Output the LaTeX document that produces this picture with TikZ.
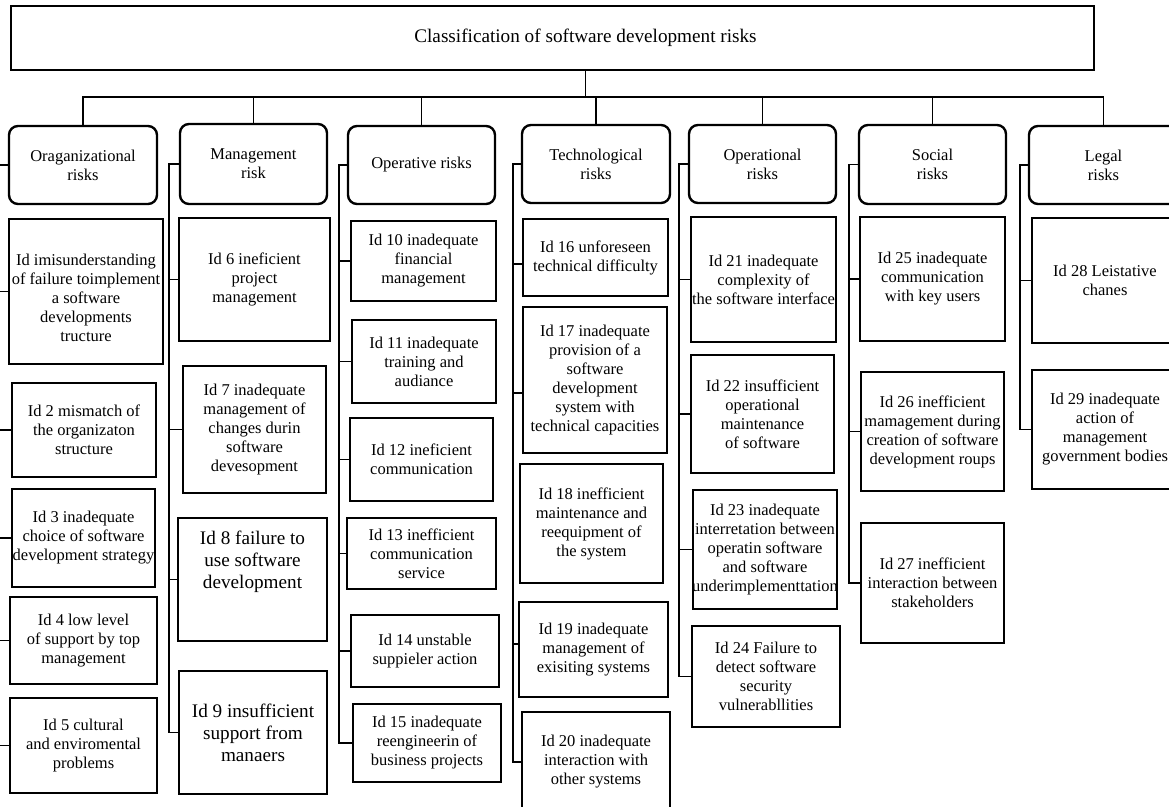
\documentclass[tikz,border=0pt]{standalone}
\usepackage{fontspec}
\setmainfont{Liberation Serif}
\usetikzlibrary{calc}
\tikzset{
  itembox/.style={draw, line width=1.8pt, inner sep=0pt},
  catbox/.style={draw, line width=2.4pt, rounded corners=9pt, inner sep=0pt},
  titlebox/.style={draw, line width=2pt, inner sep=0pt},
  txt/.style={align=center, inner sep=0pt, font=\fontsize{16.5}{19}\selectfont},
  bigtxt/.style={align=center, inner sep=0pt, font=\fontsize{19.2}{22}\selectfont},
  link/.style={line width=1.6pt},
}
% #1 box style, #2 name, #3-#6 corners (x1,y1,x2,y2), #7 text style, #8 text
\newcommand\ibox[8]{%
  \node[#1, minimum width={#5-#3}, minimum height={#6-#4}] (#2) at ({(#3+#5)/2},{(#4+#6)/2}) {};
  \node[#7] (#2t) at (#2.center) {#8};}
\begin{document}
\begin{tikzpicture}[x=1pt,y=-1pt]
\useasboundingbox (0,0) rectangle (1169,806);
\fill[white] (0,0) rectangle (1169,806);

% title
\ibox{titlebox}{title}{11}{6}{1094}{70}{bigtxt,xshift=33pt}{Classification of software development risks}

% categories
\ibox{catbox}{c1}{9}{126}{157}{204}{txt}{Oraganizational\\risks}
\ibox{catbox}{c2}{180}{124}{327}{204}{txt}{Management\\risk}
\ibox{catbox}{c3}{348}{126}{495}{204}{txt}{Operative risks}
\ibox{catbox}{c4}{522}{125}{670}{203}{txt}{Technological\\risks}
\ibox{catbox}{c5}{689}{125}{836}{203}{txt}{Operational\\risks}
\ibox{catbox}{c6}{859}{125}{1006}{204}{txt}{Social\\risks}
\ibox{catbox}{c7}{1029}{126}{1178}{204}{txt}{Legal\\risks}

% organizational
\ibox{itembox}{b1}{9}{219}{163}{364}{txt,yshift=-6pt}{Id imisunderstanding\\of failure toimplement\\a software\\developments\\tructure}
\ibox{itembox}{b2}{12}{383}{156}{477}{txt}{Id 2 mismatch of\\the organizaton\\structure}
\ibox{itembox}{b3}{12}{489}{155}{587}{txt}{Id 3 inadequate\\choice of software\\development strategy}
\ibox{itembox}{b4}{10}{597}{157}{684}{txt}{Id 4 low level\\of support by top\\management}
\ibox{itembox}{b5}{10}{698}{157}{793}{txt}{Id 5 cultural\\and enviromental\\problems}

% management
\ibox{itembox}{b6}{179}{218}{330}{341}{txt}{Id 6 ineficient\\project\\management}
\ibox{itembox}{b7}{183}{366}{326}{493}{txt}{Id 7 inadequate\\management of\\changes durin\\software\\devesopment}
\ibox{itembox}{b8}{178}{518}{327}{641}{bigtxt,yshift=18pt}{Id 8 failure to\\use software\\development}
\ibox{itembox}{b9}{179}{671}{327}{794}{bigtxt}{Id 9 insufficient\\support from\\manaers}

% operative
\ibox{itembox}{b10}{351}{221}{496}{301}{txt}{Id 10 inadequate\\financial\\management}
\ibox{itembox}{b11}{352}{320}{496}{403}{txt}{Id 11 inadequate\\training and\\audiance}
\ibox{itembox}{b12}{350}{418}{493}{501}{txt}{Id 12 ineficient\\communication}
\ibox{itembox}{b13}{347}{518}{496}{589}{txt}{Id 13 inefficient\\communication\\service}
\ibox{itembox}{b14}{351}{615}{499}{687}{txt}{Id 14 unstable\\suppieler action}
\ibox{itembox}{b15}{353}{704}{501}{782}{txt}{Id 15 inadequate\\reengineerin of\\business projects}

% technological
\ibox{itembox}{b16}{523}{219}{668}{296}{txt}{Id 16 unforeseen\\technical difficulty}
\ibox{itembox}{b17}{523}{307}{667}{453}{txt}{Id 17 inadequate\\provision of a\\software\\development\\system with\\technical capacities}
\ibox{itembox}{b18}{520}{464}{663}{583}{txt}{Id 18 inefficient\\maintenance and\\reequipment of\\the system}
\ibox{itembox}{b19}{519}{602}{668}{697}{txt}{Id 19 inadequate\\management of\\exisiting systems}
\ibox{itembox}{b20}{522}{712}{670}{812}{txt}{Id 20 inadequate\\interaction with\\other systems}

% operational
\ibox{itembox}{b21}{691}{217}{836}{342}{txt}{Id 21 inadequate\\complexity of\\the software interface}
\ibox{itembox}{b22}{691}{355}{834}{473}{txt}{Id 22 insufficient\\operational\\maintenance\\of software}
\ibox{itembox}{b23}{693}{490}{837}{609}{txt}{Id 23 inadequate\\interretation between\\operatin software\\and software\\underimplementtation}
\ibox{itembox}{b24}{692}{626}{840}{727}{txt}{Id 24 Failure to\\detect software\\security\\vulnerabllities}

% social
\ibox{itembox}{b25}{860}{217}{1005}{341}{txt}{Id 25 inadequate\\communication\\with key users}
\ibox{itembox}{b26}{861}{372}{1004}{491}{txt}{Id 26 inefficient\\mamagement during\\creation of software\\development roups}
\ibox{itembox}{b27}{861}{523}{1004}{643}{txt}{Id 27 inefficient\\interaction between\\stakeholders}

% legal
\ibox{itembox}{b28}{1032}{218}{1178}{343}{txt}{Id 28 Leistative\\chanes}
\ibox{itembox}{b29}{1032}{370}{1178}{489}{txt}{Id 29 inadequate\\action of\\management\\government bodies}

% top connectors
\coordinate (bus) at (0,97);
\draw[link] ([xshift=33pt]title.south) coordinate (trunk) -- (trunk |- bus);
\draw[link] (c1.north) -- (c1.north |- bus) -- (c7.north |- bus) -- (c7.north);
\foreach \c in {c2,c3,c4,c5,c6} \draw[link] (\c.north) -- (\c.north |- bus);

% column buses
\coordinate (k1) at (-3,0);
\coordinate (k2) at (169,0);
\coordinate (k3) at (339,0);
\coordinate (k4) at (513,0);
\coordinate (k5) at (679,0);
\coordinate (k6) at (849,0);
\coordinate (k7) at (1020,0);

\draw[link] (c1.west) -- (c1.west -| k1) -- (b5.west -| k1) -- (b5.west);
\foreach \b in {b1,b2,b3,b4} \draw[link] (\b.west) -- (\b.west -| k1);

\draw[link] (c2.west) -- (c2.west -| k2) -- (b9.west -| k2) -- (b9.west);
\foreach \b in {b6,b7,b8} \draw[link] (\b.west) -- (\b.west -| k2);

\draw[link] (c3.west) -- (c3.west -| k3) -- (b15.west -| k3) -- (b15.west);
\foreach \b in {b10,b11,b12,b13,b14} \draw[link] (\b.west) -- (\b.west -| k3);

\draw[link] (c4.west) -- (c4.west -| k4) -- (b20.west -| k4) -- (b20.west);
\draw[link] ([yshift=-6.5pt]b16.west) coordinate (s16) -- (s16 -| k4);
\draw[link] ([yshift=-13pt]b17.west) coordinate (s17) -- (s17 -| k4);
\draw[link] ([yshift=5.5pt]b19.west) coordinate (s19) -- (s19 -| k4);

\draw[link] (c5.west) -- (c5.west -| k5) -- (b24.west -| k5) -- (b24.west);
\foreach \b in {b21,b22,b23} \draw[link] (\b.west) -- (\b.west -| k5);

\draw[link] (c6.west) -- (c6.west -| k6) -- (b27.west -| k6) -- (b27.west);
\foreach \b in {b25,b26} \draw[link] (\b.west) -- (\b.west -| k6);

\draw[link] (c7.west) -- (c7.west -| k7) -- (b29.west -| k7) -- (b29.west);
\draw[link] (b28.west) -- (b28.west -| k7);
\end{tikzpicture}
\end{document}
